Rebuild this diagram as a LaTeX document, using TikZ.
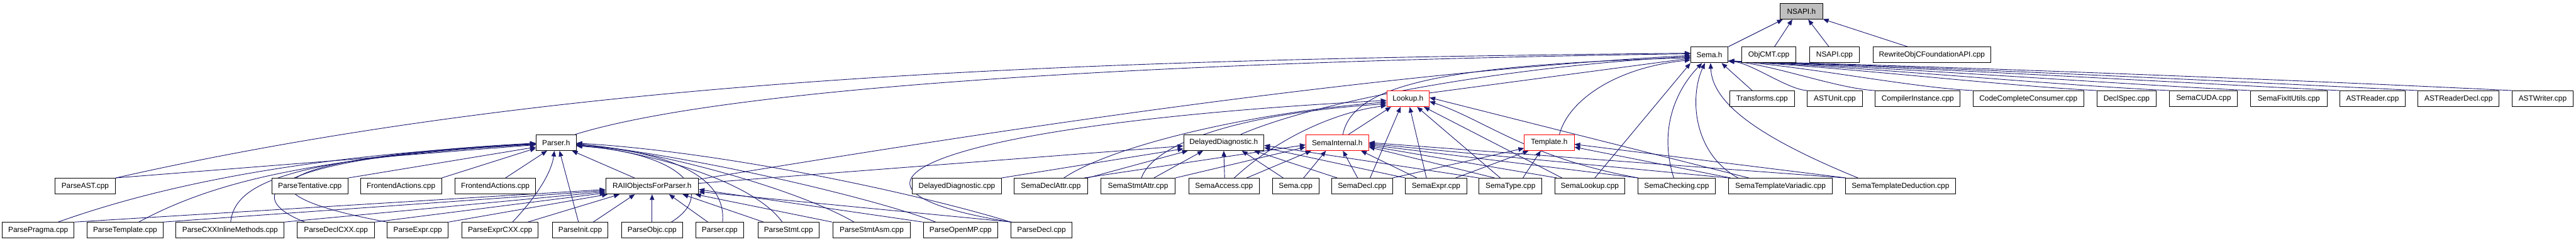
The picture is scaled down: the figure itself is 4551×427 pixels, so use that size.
\documentclass[tikz,border=0pt]{standalone}
\usepackage{fontspec}
\setmainfont{Liberation Sans}
\usetikzlibrary{arrows.meta}
\definecolor{dblue}{HTML}{191970}
\definecolor{bred}{HTML}{FF0000}
\definecolor{nfill}{HTML}{BFBFBF}
\pgfdeclarelayer{bg}
\pgfsetlayers{bg,main}
\tikzset{
 nbox/.style={draw=black, line width=1pt, fill=white, inner sep=0pt, minimum height=28pt, font=\fontsize{13.2}{15}\selectfont, text=black},
 rbox/.style={nbox, draw=bred},
 gbox/.style={nbox, fill=nfill},
 edge/.style={draw=dblue, line width=1pt, -{Triangle[length=10pt,width=8pt]}},
}
\newcommand\bx[6]{\node[#1, minimum width={#4pt-#3pt}] (#2) at ({(#3+#4)/2},{-#5}) {#6};}
\begin{document}
\begin{tikzpicture}[x=1pt,y=1pt]
\useasboundingbox (0,0) rectangle (4551,-427);
% row 0
\bx{gbox}{nsapih}{3145}{3220}{20}{NSAPI.h}
% row 1
\bx{nbox}{semah}{2987}{3053}{97}{Sema.h}
\bx{nbox}{objcmt}{3077}{3173}{97}{ObjCMT.cpp}
\bx{nbox}{nsapicpp}{3197}{3285}{97}{NSAPI.cpp}
\bx{nbox}{rewrite}{3309}{3517}{97}{RewriteObjCFoundationAPI.cpp}
% row 2
\bx{rbox}{lookup}{2450}{2525}{174.5}{Lookup.h}
\bx{nbox}{transforms}{3056}{3170}{174.5}{Transforms.cpp}
\bx{nbox}{astunit}{3193}{3290}{174.5}{ASTUnit.cpp}
\bx{nbox}{compinst}{3313}{3463}{174.5}{CompilerInstance.cpp}
\bx{nbox}{codecomplete}{3486}{3681}{174.5}{CodeCompleteConsumer.cpp}
\bx{nbox}{declspec}{3705}{3809}{174.5}{DeclSpec.cpp}
\bx{nbox}{semacuda}{3833}{3953}{174.5}{SemaCUDA.cpp}
\bx{nbox}{fixit}{3976}{4111}{174.5}{SemaFixItUtils.cpp}
\bx{nbox}{astreader}{4134}{4249}{174.5}{ASTReader.cpp}
\bx{nbox}{astreaderdecl}{4272}{4415}{174.5}{ASTReaderDecl.cpp}
\bx{nbox}{astwriter}{4438}{4546}{174.5}{ASTWriter.cpp}
% row 3
\bx{nbox}{parserh}{947}{1018}{252}{Parser.h}
\bx{nbox}{ddh}{2091}{2233}{252}{DelayedDiagnostic.h}
\bx{rbox}{seminth}{2307}{2418}{252}{SemaInternal.h}
\bx{rbox}{templh}{2693}{2781}{252}{Template.h}
% row 4
\bx{nbox}{parseast}{97}{204}{329}{ParseAST.cpp}
\bx{nbox}{tentative}{480}{615}{329}{ParseTentative.cpp}
\bx{nbox}{fa1}{637}{780}{329}{FrontendActions.cpp}
\bx{nbox}{fa2}{804}{946}{329}{FrontendActions.cpp}
\bx{nbox}{raii}{1070}{1234}{329}{RAIIObjectsForParser.h}
\bx{nbox}{ddcpp}{1612}{1769}{329}{DelayedDiagnostic.cpp}
\bx{nbox}{declattr}{1792}{1921}{329}{SemaDeclAttr.cpp}
\bx{nbox}{stmtattr}{1945}{2076}{329}{SemaStmtAttr.cpp}
\bx{nbox}{access}{2100}{2225}{329}{SemaAccess.cpp}
\bx{nbox}{semacpp}{2248}{2330}{329}{Sema.cpp}
\bx{nbox}{semadecl}{2353}{2460}{329}{SemaDecl.cpp}
\bx{nbox}{semaexpr}{2483}{2591}{329}{SemaExpr.cpp}
\bx{nbox}{sematype}{2613}{2724}{329}{SemaType.cpp}
\bx{nbox}{semalookup}{2747}{2870}{329}{SemaLookup.cpp}
\bx{nbox}{checking}{2894}{3030}{329}{SemaChecking.cpp}
\bx{nbox}{variadic}{3054}{3237}{329}{SemaTemplateVariadic.cpp}
\bx{nbox}{deduction}{3260}{3455}{329}{SemaTemplateDeduction.cpp}
% row 5
\bx{nbox}{pragma}{4}{131}{407}{ParsePragma.cpp}
\bx{nbox}{ptemplate}{154}{288}{407}{ParseTemplate.cpp}
\bx{nbox}{pinline}{311}{502}{407}{ParseCXXInlineMethods.cpp}
\bx{nbox}{declcxx}{525}{662}{407}{ParseDeclCXX.cpp}
\bx{nbox}{pexpr}{684}{792}{407}{ParseExpr.cpp}
\bx{nbox}{pexprcxx}{816}{951}{407}{ParseExprCXX.cpp}
\bx{nbox}{pinit}{976}{1074}{407}{ParseInit.cpp}
\bx{nbox}{pobjc}{1098}{1206}{407}{ParseObjc.cpp}
\bx{nbox}{parsercpp}{1229}{1314}{407}{Parser.cpp}
\bx{nbox}{pstmt}{1339}{1447}{407}{ParseStmt.cpp}
\bx{nbox}{pasm}{1472}{1608}{407}{ParseStmtAsm.cpp}
\bx{nbox}{popenmp}{1631}{1763}{407}{ParseOpenMP.cpp}
\bx{nbox}{pdecl}{1786}{1894}{407}{ParseDecl.cpp}

\begin{pgfonlayer}{bg}
% NSAPI.h
\draw[edge] (semah.north east) -- ([xshift=5]nsapih.south west);
\draw[edge] ([xshift=10]objcmt.north) -- ([xshift=22]nsapih.south west);
\draw[edge] ([xshift=-10]nsapicpp.north) -- ([xshift=50]nsapih.south west);
\draw[edge] ([xshift=-43]rewrite.north) -- (nsapih.-20);
% Sema.h from the right
\draw[edge] ([xshift=40]transforms.north west) -- ([xshift=-12]semah.south east);
\draw[edge] (astunit.north west) .. controls (3158,-158) and (3095,-112) .. (semah.-18);
\draw[edge] (compinst.north west) .. controls (3248,-157) and (3131,-114) .. (semah.-18);
\draw[edge] (codecomplete.north west) .. controls (3378,-155) and (3183,-116) .. (semah.-18);
\draw[edge] (declspec.north west) .. controls (3542,-152) and (3249,-118) .. (semah.-18);
\draw[edge] (semacuda.north west) .. controls (3638,-151) and (3287,-118) .. (semah.-18);
\draw[edge] (fixit.north west) .. controls (3745,-149) and (3330,-118) .. (semah.-18);
\draw[edge] (astreader.north west) .. controls (3864,-147) and (3377,-118) .. (semah.-18);
\draw[edge] (astreaderdecl.north west) .. controls (3967,-145) and (3419,-118) .. (semah.-18);
\draw[edge] (astwriter.north west) .. controls (4092,-143) and (3469,-118) .. (semah.-18);
% Sema.h from the left and below
\draw[edge] (parseast.north east) .. controls (1000,-135) and (1900,-105) .. ([yshift=3]semah.west);
\draw[edge] ([xshift=-2]parserh.north east) .. controls (1300,-150) and (2100,-108) .. ([yshift=2]semah.west);
\draw[edge] ([yshift=12]raii.east) .. controls (1700,-240) and (2400,-130) .. ([yshift=-1]semah.west);
\draw[edge] ([xshift=30]ddh.north) .. controls (2350,-170) and (2700,-115) .. ([yshift=-3]semah.west);
\draw[edge] ([xshift=10]seminth.north) .. controls (2390,-150) and (2550,-115) .. ([yshift=-5]semah.west);
\draw[edge] (lookup.15) -- ([yshift=-6]semah.west);
\draw[edge] ([xshift=18]templh.north) .. controls (2770,-180) and (2850,-120) .. (semah.195);
\draw[edge] ([xshift=9]semalookup.north) -- (semah.south west);
\draw[edge] ([xshift=-5]checking.north) .. controls (2930,-230) and (2960,-160) .. ([xshift=-13]semah.south);
\draw[edge] ([xshift=-75]variadic.north) .. controls (2990,-270) and (2985,-170) .. ([xshift=-8]semah.south);
\draw[edge] ([xshift=-75]deduction.north) .. controls (3100,-240) and (3025,-180) .. ([xshift=2]semah.south);
% Parser.h
\draw[edge] (parseast.north east) -- ([yshift=-4]parserh.west);
\draw[edge] (tentative.north east) -- ([yshift=-8]parserh.west);
\draw[edge] (fa1.north east) -- ([yshift=-10]parserh.west);
\draw[edge] ([xshift=18]fa2.north) -- ([xshift=20]parserh.south west);
\draw[edge] ([xshift=-31]raii.north) -- ([xshift=-8]parserh.south east);
\draw[edge] ([xshift=35]pragma.north) .. controls (250,-340) and (500,-275) .. ([yshift=-3]parserh.west);
\draw[edge] ([xshift=24]ptemplate.north) .. controls (380,-320) and (550,-280) .. ([yshift=-3]parserh.west);
\draw[edge] ([xshift=1]pinline.north) .. controls (415,-320) and (520,-280) .. ([yshift=-2]parserh.west);
\draw[edge] ([xshift=-55]declcxx.north) .. controls (430,-350) and (450,-280) .. ([yshift=-2]parserh.west);
\draw[edge] (pexpr.north west) .. controls (400,-340) and (460,-280) .. ([yshift=-1]parserh.west);
\draw[edge] ([xshift=22]pexprcxx.north) .. controls (955,-340) and (975,-300) .. ([xshift=-3]parserh.south);
\draw[edge] ([xshift=-3]pinit.north) -- ([xshift=6]parserh.south);
\draw[edge] ([xshift=34]pobjc.north) .. controls (1270,-340) and (1200,-270) .. ([yshift=-6]parserh.east);
\draw[edge] ([xshift=5]parsercpp.north) .. controls (1285,-300) and (1150,-265) .. ([yshift=-5]parserh.east);
\draw[edge] ([xshift=-11]pstmt.north) .. controls (1330,-320) and (1150,-270) .. ([yshift=-4]parserh.east);
\draw[edge] ([xshift=-31]pasm.north) .. controls (1400,-330) and (1150,-265) .. ([yshift=-3]parserh.east);
\draw[edge] ([xshift=-44]popenmp.north) .. controls (1560,-355) and (1250,-280) .. ([yshift=-2]parserh.east);
\draw[edge] (pdecl.north west) .. controls (1650,-350) and (1300,-270) .. ([yshift=-1]parserh.east);
% RAIIObjectsForParser.h
\draw[edge] (pragma.north east) -- ([yshift=-6]raii.west);
\draw[edge] (ptemplate.north east) -- ([yshift=-8]raii.west);
\draw[edge] (pinline.north east) -- ([yshift=-10]raii.west);
\draw[edge] (declcxx.north east) -- ([yshift=-12]raii.west);
\draw[edge] (pexpr.north east) -- ([xshift=4]raii.south west);
\draw[edge] ([xshift=49]pexprcxx.north) -- ([xshift=25]raii.south west);
\draw[edge] ([xshift=23]pinit.north) -- ([xshift=52]raii.south west);
\draw[edge] (pobjc.north) -- (raii.south);
\draw[edge] ([xshift=-21]parsercpp.north) -- ([xshift=30]raii.south);
\draw[edge] ([xshift=-44]pstmt.north) -- ([xshift=54]raii.south);
\draw[edge] ([xshift=-70]pasm.north) -- ([xshift=-6]raii.south east);
\draw[edge] (popenmp.north west) -- ([yshift=-6]raii.east);
\draw[edge] ([xshift=2]pdecl.north west) -- ([yshift=-10]raii.east);
% DelayedDiagnostic.h
\draw[edge] ([yshift=5]raii.east) -- ([yshift=-6]ddh.west);
\draw[edge] (ddcpp.north east) -- ([yshift=-11]ddh.west);
\draw[edge] (declattr.north east) -- ([xshift=8]ddh.south west);
\draw[edge] ([xshift=28]stmtattr.north) -- ([xshift=35]ddh.south west);
\draw[edge] ([xshift=1]access.north) -- (ddh.south);
\draw[edge] ([xshift=-22]semacpp.north) -- ([xshift=32]ddh.south);
\draw[edge] ([xshift=-44]semadecl.north) -- ([xshift=-18]ddh.south east);
\draw[edge] (semaexpr.north west) -- ([yshift=-9]ddh.east);
\draw[edge] (sematype.north west) -- ([yshift=-5]ddh.east);
% SemaInternal.h
\draw[edge] ([xshift=-6]declattr.north east) -- ([yshift=-4]seminth.west);
\draw[edge] (stmtattr.north east) -- ([yshift=-8]seminth.west);
\draw[edge] ([xshift=40]access.north) -- ([xshift=10]seminth.south west);
\draw[edge] ([xshift=14]semacpp.north) -- ([xshift=-20]seminth.south);
\draw[edge] ([xshift=-8]semadecl.north) -- ([xshift=10]seminth.south);
\draw[edge] ([xshift=-34]semaexpr.north) -- ([xshift=-14]seminth.south east);
\draw[edge] ([xshift=-28]sematype.north) -- ([yshift=-8]seminth.east);
\draw[edge] ([xshift=4]semalookup.north west) -- ([yshift=-6]seminth.east);
\draw[edge] (checking.north west) -- ([yshift=-4]seminth.east);
\draw[edge] (variadic.north west) -- ([yshift=-2]seminth.east);
\draw[edge] (deduction.north west) -- (seminth.east);
% Lookup.h
\draw[edge] (pdecl.north west) .. controls (1400,-330) and (1650,-220) .. ([yshift=-3]lookup.west);
\draw[edge] ([xshift=23]declattr.north) .. controls (1960,-260) and (2200,-200) .. ([yshift=-6]lookup.west);
\draw[edge] ([xshift=6]stmtattr.north) .. controls (2040,-250) and (2200,-200) .. ([yshift=-9]lookup.west);
\draw[edge] ([xshift=18]access.north) .. controls (2250,-250) and (2350,-200) .. ([yshift=-12]lookup.west);
\draw[edge] ([xshift=20]seminth.north) -- ([xshift=8]lookup.south west);
\draw[edge] ([xshift=14]semadecl.north) -- ([xshift=25]lookup.south west);
\draw[edge] ([xshift=-17]semaexpr.north) -- ([xshift=3]lookup.south);
\draw[edge] ([xshift=-18]sematype.north) -- ([xshift=16]lookup.south);
\draw[edge] ([xshift=13]semalookup.north west) -- ([xshift=-10]lookup.south east);
\draw[edge] ([xshift=1]checking.north west) .. controls (2700,-280) and (2620,-210) .. ([yshift=-5]lookup.east);
\draw[edge] ([xshift=36]variadic.north west) -- ([yshift=2]lookup.east);
% Template.h
\draw[edge] (semadecl.north east) -- ([yshift=-10]templh.west);
\draw[edge] ([xshift=-20]semaexpr.north east) -- ([xshift=8]templh.south west);
\draw[edge] ([xshift=22]sematype.north) -- ([xshift=-15]templh.south);
\draw[edge] ([xshift=4]variadic.north west) -- ([yshift=-8]templh.east);
\draw[edge] ([xshift=2]deduction.north west) -- ([yshift=-3]templh.east);
\end{pgfonlayer}
\end{tikzpicture}
\end{document}
